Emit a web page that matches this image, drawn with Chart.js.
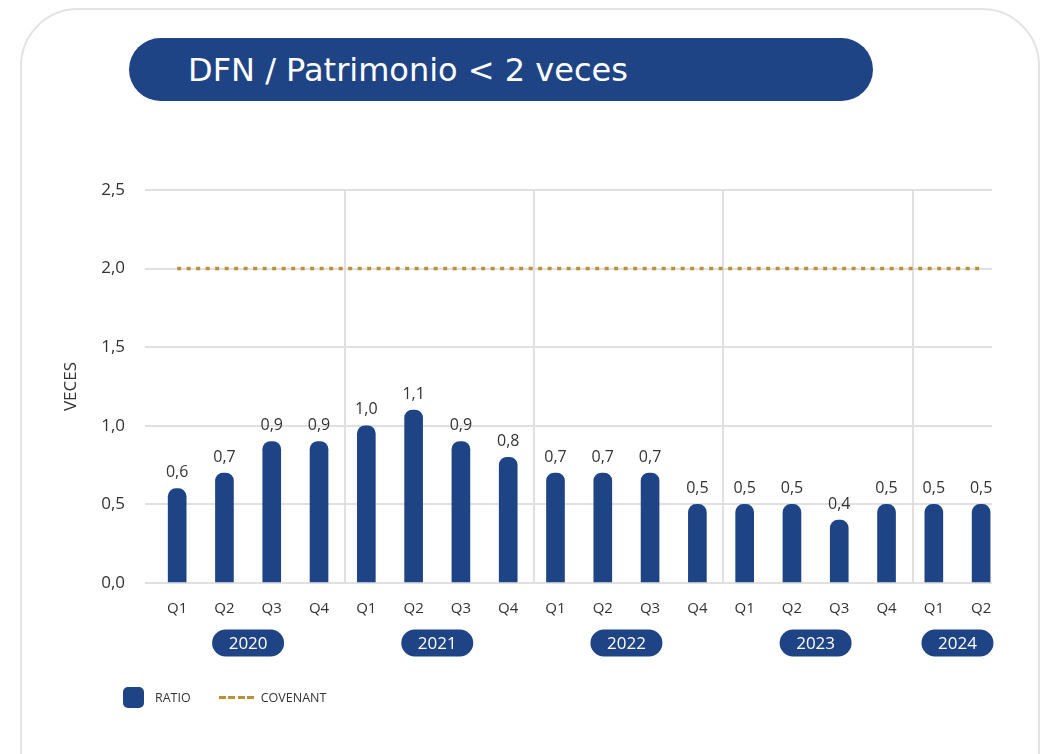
<!DOCTYPE html>
<html lang="es">
<head>
<meta charset="utf-8">
<title>DFN / Patrimonio &lt; 2 veces</title>
<script src="https://cdn.jsdelivr.net/npm/chart.js@4.4.1/dist/chart.umd.min.js"></script>
<style>
    html, body { margin: 0; padding: 0; background: #fff; }
    body { width: 1050px; height: 754px; position: relative; overflow: hidden; font-family: 'Open Sans', sans-serif; }
    .card { position: absolute; left: 20px; top: 8px; width: 1020px; height: 820px; border: 2px solid #e3e3e3; border-radius: 58px; box-sizing: border-box; }
    .titulo { position: absolute; left: 129px; top: 38px; width: 744px; height: 63px; border-radius: 32px; background: #1f4486; color: #fff; font-family: 'DejaVu Sans', sans-serif; font-size: 32px; line-height: 65px; padding-left: 59px; box-sizing: border-box; white-space: nowrap; }
    #grafico { position: absolute; left: 0; top: 0; }
    .leyenda { position: absolute; left: 123px; top: 687px; height: 21px; display: flex; align-items: center; font-size: 12.5px; color: #333; }
    .leyenda .cuadro { width: 21px; height: 21px; border-radius: 5px; background: #1f4486; margin-right: 11px; }
    .leyenda .punteado { width: 35px; height: 3px; margin-left: 28px; margin-right: 7px; background: repeating-linear-gradient(90deg, #b8923a 0 7px, transparent 7px 9.5px); }
</style>
</head>
<body>
<div class="card"></div>
<div class="titulo">DFN / Patrimonio &lt; 2 veces</div>
<canvas id="grafico" width="1050" height="754"></canvas>
<div class="leyenda">
    <span class="cuadro"></span><span>RATIO</span>
    <span class="punteado"></span><span>COVENANT</span>
</div>
<script>
// Datos
const trimestres = ['Q1', 'Q2', 'Q3', 'Q4', 'Q1', 'Q2', 'Q3', 'Q4', 'Q1', 'Q2', 'Q3', 'Q4', 'Q1', 'Q2', 'Q3', 'Q4', 'Q1', 'Q2'];
const anios = ['2020', '2020', '2020', '2020', '2021', '2021', '2021', '2021', '2022', '2022', '2022', '2022', '2023', '2023', '2023', '2023', '2024', '2024'];
const ratio = [0.6, 0.7, 0.9, 0.9, 1.0, 1.1, 0.9, 0.8, 0.7, 0.7, 0.7, 0.5, 0.5, 0.5, 0.4, 0.5, 0.5, 0.5];
const covenant = [2.0, 2.0, 2.0, 2.0, 2.0, 2.0, 2.0, 2.0, 2.0, 2.0, 2.0, 2.0, 2.0, 2.0, 2.0, 2.0, 2.0, 2.0];
const ticksY = [0, 0.5, 1.0, 1.5, 2.0, 2.5];

const AZUL = '#1f4486';
const DORADO = '#b8923a';
const GRIS = '#e0e0e0';
const TEXTO = '#333';

const formato = v => v.toFixed(1).replace('.', ',');

// Líneas verticales entre años
const separadores = {
    id: 'separadores',
    beforeDatasetsDraw(chart) {
        const { ctx, chartArea, scales } = chart;
        ctx.save();
        ctx.strokeStyle = GRIS;
        ctx.lineWidth = 2;
        anios.forEach((a, i) => {
            if (i === 0 || a === anios[i - 1]) return;
            const x = Math.round(scales.x.getPixelForValue(i - 0.45));
            ctx.beginPath();
            ctx.moveTo(x, chartArea.top);
            ctx.lineTo(x, chartArea.bottom);
            ctx.stroke();
        });
        ctx.restore();
    }
};

// Etiquetas de valor sobre cada barra
const etiquetas = {
    id: 'etiquetas',
    afterDatasetsDraw(chart) {
        const { ctx } = chart;
        const meta = chart.getDatasetMeta(0);
        ctx.save();
        ctx.font = '16px "Open Sans"';
        ctx.fillStyle = TEXTO;
        ctx.textAlign = 'center';
        ctx.textBaseline = 'bottom';
        meta.data.forEach((bar, i) => {
            ctx.fillText(formato(ratio[i]), bar.x, bar.y - 8);
        });
        ctx.restore();
    }
};

// Píldoras con el año bajo cada grupo de trimestres
const pildorasAnio = {
    id: 'pildorasAnio',
    afterDraw(chart) {
        const { ctx, scales } = chart;
        const unicos = [...new Set(anios)];
        ctx.save();
        unicos.forEach(anio => {
            const idx = anios.map((a, i) => a === anio ? i : -1).filter(i => i >= 0);
            const centro = (idx[0] + idx[idx.length - 1]) / 2;
            const x = scales.x.getPixelForValue(centro);
            const y = 643;
            ctx.fillStyle = AZUL;
            ctx.beginPath();
            ctx.roundRect(x - 36, y - 13.5, 72, 27, 13.5);
            ctx.fill();
            ctx.fillStyle = '#fff';
            ctx.font = '17px "Open Sans"';
            ctx.textAlign = 'center';
            ctx.textBaseline = 'middle';
            ctx.fillText(anio, x, y + 1);
        });
        ctx.restore();
    }
};

const ctx = document.getElementById('grafico').getContext('2d');
new Chart(ctx, {
    data: {
        datasets: [
            {
                type: 'bar',
                label: 'RATIO',
                data: ratio.map((v, i) => ({ x: i, y: v })),
                backgroundColor: AZUL,
                barThickness: 18,
                borderRadius: { topLeft: 8, topRight: 8, bottomLeft: 0, bottomRight: 0 },
                borderSkipped: false,
                order: 2,
            },
            {
                type: 'line',
                label: 'COVENANT',
                data: covenant.map((v, i) => ({ x: i, y: v })),
                borderColor: DORADO,
                borderWidth: 3.5,
                borderDash: [4, 5.5],
                pointRadius: 0,
                fill: false,
                order: 1,
            }
        ]
    },
    options: {
        responsive: false,
        animation: false,
        layout: { padding: { left: 60, top: 190, right: 58, bottom: 131 } },
        plugins: {
            legend: { display: false },
            tooltip: { enabled: false },
        },
        scales: {
            x: {
                type: 'linear',
                offset: false,
                min: -0.68,
                max: 17.23,
                afterFit: s => { s.height = 40; },
                afterBuildTicks: s => { s.ticks = trimestres.map((t, i) => ({ value: i })); },
                ticks: {
                    autoSkip: false,
                    maxRotation: 0,
                    padding: 9,
                    color: TEXTO,
                    font: { family: 'Open Sans', size: 15 },
                    callback: v => trimestres[v],
                },
                grid: { display: false },
                border: { display: false },
            },
            y: {
                min: 0,
                max: 2.5,
                afterFit: s => { s.width = 85; },
                afterBuildTicks: s => { s.ticks = ticksY.map(v => ({ value: v })); },
                ticks: {
                    padding: 20,
                    color: TEXTO,
                    font: { family: 'Open Sans', size: 17 },
                    callback: v => formato(v),
                },
                title: {
                    display: true,
                    text: 'VECES',
                    color: TEXTO,
                    font: { family: 'Open Sans', size: 17 },
                    padding: { top: 1, bottom: 0 },
                },
                grid: { color: GRIS, lineWidth: 2, drawTicks: false },
                border: { display: false },
            }
        }
    },
    plugins: [separadores, etiquetas, pildorasAnio]
});
</script>
</body>
</html>
